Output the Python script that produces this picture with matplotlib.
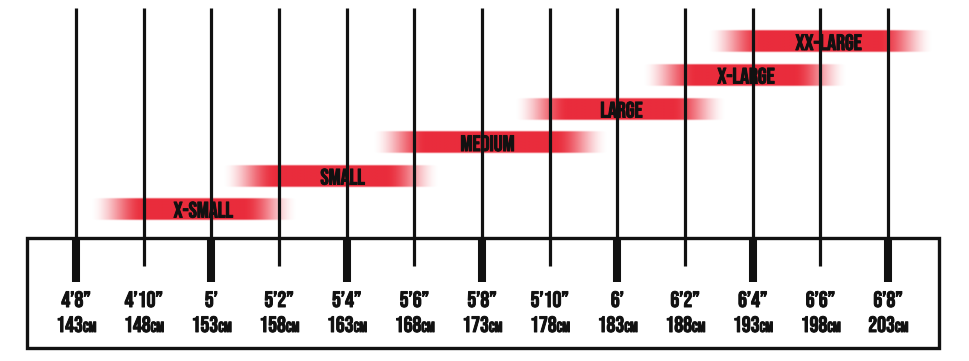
import numpy as np
import matplotlib
matplotlib.use("Agg")
import matplotlib.pyplot as plt
from matplotlib.patches import Rectangle
import matplotlib.patheffects as pe

plt.rcParams['font.family'] = ['Bebas Neue', 'Oswald', 'DejaVu Sans']

# height scale
heights_cm = [143, 148, 153, 158, 163, 168, 173, 178, 183, 188, 193, 198, 203]
heights_ft = ["4’8”", "4’10”", "5’", "5’2”", "5’4”", "5’6”", "5’8”",
              "5’10”", "6’", "6’2”", "6’4”", "6’6”", "6’8”"]

# size bands (cm range covered, where the label sits)
sizes = ["X-SMALL", "SMALL", "MEDIUM", "LARGE", "X-LARGE", "XX-LARGE"]
size_from = [144.0, 153.8, 164.9, 175.4, 184.8, 189.6]
size_to = [159.3, 169.9, 182.4, 191.1, 200.0, 206.3]
size_label_at = [152.4, 162.7, 173.4, 183.3, 192.5, 198.6]

W, H = 969, 361
fig = plt.figure(figsize=(W / 100, H / 100), dpi=100)
ax = fig.add_axes([0, 0, 1, 1])

# pixel -> cm mapping for the x axis
px_per_cm = (888 - 76) / (heights_cm[-1] - heights_cm[0])
x0 = heights_cm[0] - 76 / px_per_cm
x1 = heights_cm[0] + (W - 76) / px_per_cm
ax.set_xlim(x0, x1)
ax.set_ylim(H, 0)
ax.axis('off')

red = np.array([232, 25, 42]) / 255.0
ink = '#111111'
bold = [pe.withStroke(linewidth=0.7, foreground=ink)]

# bands
row_y = [209, 176, 142.5, 109, 75, 41.5]
band_h = 24
fade = 4.0
for name, a, b, lx, yc in zip(sizes, size_from, size_to, size_label_at, row_y):
    xs = np.linspace(a, b, 400)
    t = np.clip(np.minimum(xs - a, b - xs) / fade, 0, 1)
    alpha_x = t * t * (3 - 2 * t)
    ys = np.linspace(-1, 1, 40)
    alpha_y = np.clip((1 - np.abs(ys)) / 0.15, 0, 1)
    img = np.zeros((40, 400, 4))
    img[..., :3] = red
    img[..., 3] = 0.92 * np.outer(alpha_y, alpha_x)
    ax.imshow(img, extent=(a, b, yc + band_h / 2, yc - band_h / 2),
              aspect='auto', interpolation='bilinear', zorder=1)
    ax.text(lx, yc + 0.5, name, ha='center', va='center', fontsize=16,
            color=ink, zorder=4, path_effects=bold)

# box
box_top, box_bot = 238, 348
ax.add_patch(Rectangle((x0 + 27 / px_per_cm, box_top), (939 - 27) / px_per_cm,
                       box_bot - box_top, fill=False, lw=2.4,
                       edgecolor='#111111', zorder=2))

# vertical lines and labels
for i, (cm, ft) in enumerate(zip(heights_cm, heights_ft)):
    major = i % 2 == 0
    ax.plot([cm, cm], [8, box_top if major else 266], color='#111111',
            lw=2.3, solid_capstyle='butt', zorder=3)
    if major:
        ax.plot([cm, cm], [box_top, 282], color='#111111', lw=5.8,
                solid_capstyle='butt', zorder=3)
    ax.text(cm, 299, ft, ha='center', va='center', fontsize=16,
            color=ink, zorder=4, path_effects=bold)
    ax.text(cm + 7 / px_per_cm, 332, str(cm), ha='right', va='baseline',
            fontsize=16, color=ink, zorder=4, path_effects=bold)
    ax.text(cm + 7 / px_per_cm, 332, "CM", ha='left', va='baseline',
            fontsize=10.5, color=ink, zorder=4, path_effects=bold)

fig.savefig("out.png", dpi=100, facecolor='white')
